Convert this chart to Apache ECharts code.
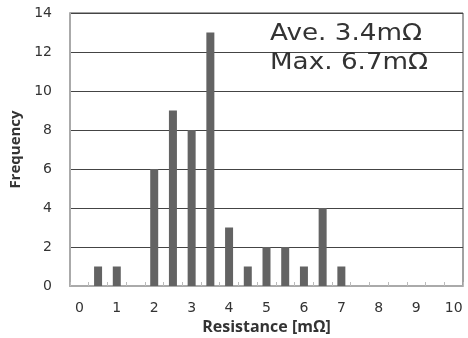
<!DOCTYPE html>
<html><head><meta charset="utf-8">
<script src="https://cdn.jsdelivr.net/npm/echarts@6/dist/echarts.min.js"></script>
<style>html,body{margin:0;padding:0;background:#fff}#c{width:468px;height:338px}</style>
</head><body><div id="c"></div>
<script>
const categories = ['0','0.5','1','1.5','2','2.5','3','3.5','4','4.5','5','5.5','6','6.5','7','7.5','8','8.5','9','9.5','10'];
const frequency = [0,1,1,0,6,9,8,13,3,1,2,2,1,4,1,0,0,0,0,0,0];
const yTicks = {min: 0, max: 14, interval: 2};
const noteLines = ['Ave. 3.4mΩ', 'Max. 6.7mΩ'];

const chart = echarts.init(document.getElementById('c'), null, {renderer: 'canvas'});
chart.setOption({
  animation: false,
  backgroundColor: '#fff',
  grid: {left: 70, right: 5, top: 13, bottom: 52, outerBoundsMode: 'none', containLabel: false,
         show: true, borderColor: '#444', borderWidth: 1},
  xAxis: {
    type: 'category', data: categories, boundaryGap: true,
    name: 'Resistance [mΩ]', nameLocation: 'middle', nameGap: 31,
    nameTextStyle: {fontFamily: 'Open Sans', fontWeight: 'bold', fontSize: 16, color: '#333'},
    axisLine: {lineStyle: {color: '#aaa', width: 2}},
    axisTick: {show: true, inside: true, length: 4, interval: 0, alignWithLabel: false, lineStyle: {color: '#bbb'}},
    axisLabel: {interval: 1, margin: 15, fontFamily: 'DejaVu Sans', fontSize: 14, color: '#333'},
    splitLine: {show: false}
  },
  yAxis: {
    type: 'value', min: yTicks.min, max: yTicks.max, interval: yTicks.interval,
    name: 'Frequency', nameLocation: 'middle', nameGap: 42,
    nameTextStyle: {fontFamily: 'Open Sans', fontWeight: 'bold', fontSize: 15, color: '#333'},
    axisLine: {show: true, lineStyle: {color: '#aaa', width: 2}},
    axisTick: {show: false},
    axisLabel: {margin: 18, fontFamily: 'DejaVu Sans', fontSize: 14, color: '#333'},
    splitLine: {lineStyle: {color: '#444', width: 1}}
  },
  series: [{
    type: 'bar', data: frequency, barWidth: 8,
    itemStyle: {color: '#636363'}
  }],
  graphic: noteLines.map((t, i) => ({
    type: 'text', x: 270, y: 23 + i * 29, scaleX: 1.14, z: 100,
    style: {text: t, fontFamily: 'DejaVu Sans', fontSize: 23, fill: '#333'}
  }))
});
</script></body></html>
